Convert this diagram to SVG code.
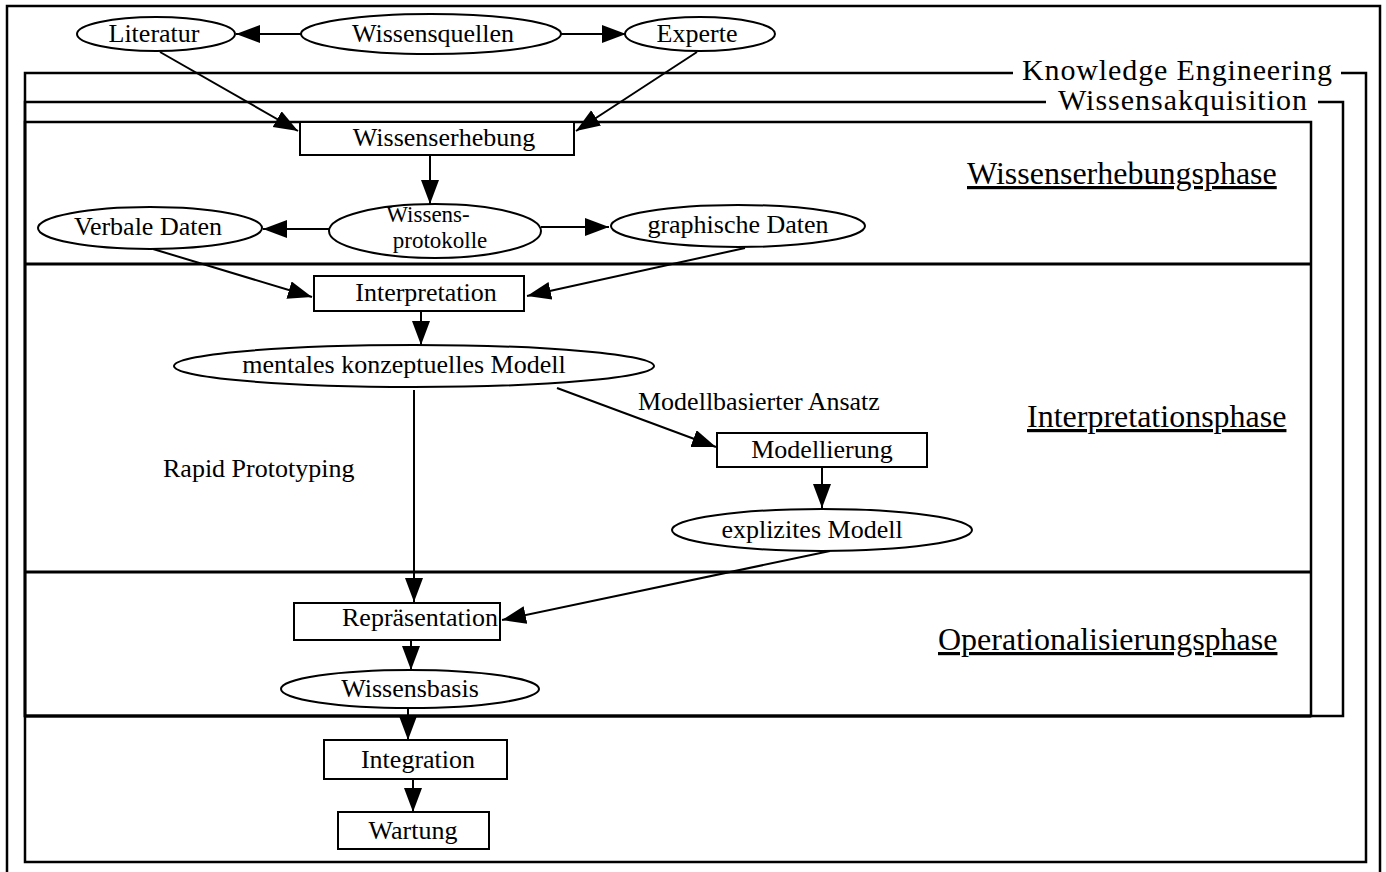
<svg xmlns="http://www.w3.org/2000/svg" width="1386" height="872" viewBox="0 0 1386 872">
<style>
text{font-family:"Liberation Serif","Times New Roman",serif;fill:#000}
.n{font-size:26px;text-anchor:middle}
.n2{font-size:23px;text-anchor:middle}
.lbl{font-size:26px}
.ph{font-size:32px;text-decoration:underline}
.fr{font-size:30px}
.shape{fill:#fff;stroke:#000;stroke-width:2}
.frame{fill:none;stroke:#000;stroke-width:2.5}
.div{fill:none;stroke:#000;stroke-width:3}
.c{stroke:#000;stroke-width:2;fill:none;marker-end:url(#ah)}
</style>
<defs>
<marker id="ah" markerUnits="userSpaceOnUse" markerWidth="26" markerHeight="20" refX="24" refY="9" orient="auto">
<path d="M0,0 L24,9 L0,18 z" fill="#000"/>
</marker>
</defs>
<rect width="1386" height="872" fill="#fff"/>
<g id="frames">
<path class="frame" d="M7,872 V6 H1380 V872"/>
<path class="frame" d="M1013,73 H25 V862 H1366 V73 H1341"/>
<text class="fr" x="1022" y="80" textLength="310">Knowledge Engineering</text>
<path class="frame" d="M1046,102 H25 V716 H1343 V102 H1318"/>
<text class="fr" x="1058" y="110" textLength="249">Wissensakquisition</text>
<rect class="frame" x="25" y="122" width="1286" height="594"/>
<line class="div" x1="25" y1="264" x2="1311" y2="264"/>
<line class="div" x1="25" y1="572" x2="1311" y2="572"/>
<line class="div" x1="25" y1="716" x2="1311" y2="716"/>
</g>
<g id="phase-labels">
<text class="ph" x="967" y="184">Wissenserhebungsphase</text>
<text class="ph" x="1027" y="427">Interpretationsphase</text>
<text class="ph" x="938" y="650">Operationalisierungsphase</text>
</g>
<g id="connectors">
<line class="c" x1="302" y1="34" x2="236" y2="34"/>
<line class="c" x1="561" y1="34" x2="626" y2="34"/>
<line class="c" x1="160" y1="52" x2="298" y2="131"/>
<line class="c" x1="697" y1="52" x2="576" y2="131"/>
<line class="c" x1="430" y1="155" x2="430" y2="204"/>
<line class="c" x1="330" y1="229" x2="263" y2="229"/>
<line class="c" x1="541" y1="227" x2="609" y2="227"/>
<line class="c" x1="153" y1="249" x2="312" y2="297"/>
<line class="c" x1="745" y1="248" x2="527" y2="296"/>
<line class="c" x1="421" y1="311" x2="421" y2="345"/>
<line class="c" x1="557" y1="388" x2="716" y2="447"/>
<line class="c" x1="414" y1="390" x2="414" y2="602"/>
<line class="c" x1="822" y1="467" x2="822" y2="508"/>
<line class="c" x1="830" y1="551" x2="502" y2="620"/>
<line class="c" x1="411" y1="640" x2="411" y2="670"/>
<line class="c" x1="408" y1="708" x2="408" y2="740"/>
<line class="c" x1="413" y1="779" x2="413" y2="812"/>
</g>
<g id="edge-labels">
<text class="lbl" x="638" y="410">Modellbasierter Ansatz</text>
<text class="lbl" x="163" y="477">Rapid Prototyping</text>
</g>
<g id="literatur"><ellipse class="shape" cx="156" cy="34" rx="79" ry="17"/><text class="n" x="154" y="42">Literatur</text></g>
<g id="wissensquellen"><ellipse class="shape" cx="431" cy="34" rx="130" ry="20"/><text class="n" x="433" y="42">Wissensquellen</text></g>
<g id="experte"><ellipse class="shape" cx="700" cy="34" rx="75" ry="17"/><text class="n" x="697" y="42">Experte</text></g>
<g id="wissenserhebung"><rect class="shape" x="300" y="122" width="274" height="33"/><text class="n" x="444" y="146">Wissenserhebung</text></g>
<g id="verbale-daten"><ellipse class="shape" cx="150" cy="228" rx="112" ry="21"/><text class="n" x="148" y="235">Verbale Daten</text></g>
<g id="wissensprotokolle"><ellipse class="shape" cx="435" cy="231" rx="106" ry="27"/><text class="n2" x="428" y="222">Wissens-</text><text class="n2" x="440" y="248">protokolle</text></g>
<g id="graphische-daten"><ellipse class="shape" cx="738" cy="226" rx="127" ry="21"/><text class="n" x="738" y="233">graphische Daten</text></g>
<g id="interpretation"><rect class="shape" x="314" y="276" width="210" height="35"/><text class="n" x="426" y="301">Interpretation</text></g>
<g id="mentales-modell"><ellipse class="shape" cx="414" cy="366" rx="240" ry="21"/><text class="n" x="404" y="373">mentales konzeptuelles Modell</text></g>
<g id="modellierung"><rect class="shape" x="717" y="433" width="210" height="34"/><text class="n" x="822" y="458">Modellierung</text></g>
<g id="explizites-modell"><ellipse class="shape" cx="822" cy="530" rx="150" ry="21"/><text class="n" x="812" y="538">explizites Modell</text></g>
<g id="repraesentation"><rect class="shape" x="294" y="603" width="206" height="37"/><text class="n" x="420" y="626">Repräsentation</text></g>
<g id="wissensbasis"><ellipse class="shape" cx="410" cy="689" rx="129" ry="19"/><text class="n" x="410" y="697">Wissensbasis</text></g>
<g id="integration"><rect class="shape" x="324" y="740" width="183" height="39"/><text class="n" x="418" y="768">Integration</text></g>
<g id="wartung"><rect class="shape" x="338" y="812" width="151" height="37"/><text class="n" x="413" y="839">Wartung</text></g>
</svg>
